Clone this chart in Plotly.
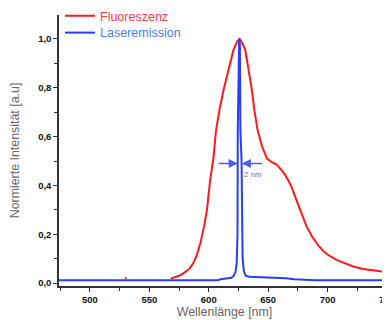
import plotly.graph_objects as go

# Fluorescence spectrum (normalized)
fluo_wl = [568, 572, 576, 580, 584, 587, 590, 593, 596, 598.5, 601, 604, 606, 609,
           612.4, 616.6, 620.8, 624, 626, 628, 630.7, 633.5, 636.3, 638.3, 641.1,
           644.8, 649, 653, 657, 660, 664, 667, 670, 673, 676, 678.5, 682, 687,
           692, 697, 702, 708, 715, 722, 730, 739, 748, 756]
fluo_val = [0.018, 0.024, 0.032, 0.045, 0.06, 0.082, 0.115, 0.165, 0.23, 0.30,
            0.415, 0.515, 0.62, 0.71, 0.79, 0.873, 0.955, 0.99, 1.0, 0.985, 0.955,
            0.873, 0.79, 0.71, 0.627, 0.56, 0.51, 0.495, 0.485, 0.47, 0.445, 0.42,
            0.39, 0.35, 0.31, 0.275, 0.235, 0.19, 0.155, 0.128, 0.11, 0.094, 0.08,
            0.067, 0.058, 0.052, 0.045, 0.04]
# isolated fluorescence spike
spike_wl = [529.5, 531]
spike_val = [0.02, 0.02]

# Laser emission (normalized)
laser_wl = [474, 608, 610, 615, 619, 621, 622.5, 623.5, 624.2, 624.4, 625.6, 626.2,
            626.6, 627.6, 627.9, 628.5, 629.5, 631, 634, 640, 648, 655, 665, 672,
            680, 690, 755]
laser_val = [0.012, 0.012, 0.016, 0.018, 0.022, 0.03, 0.045, 0.08, 0.2, 0.62, 1.0,
             0.98, 0.63, 0.5, 0.2, 0.1, 0.05, 0.03, 0.026, 0.025, 0.024, 0.022,
             0.02, 0.016, 0.013, 0.012, 0.012]

# FWHM marker
fwhm_y = 0.49
fwhm_left = [607, 624.3]
fwhm_right = [646, 627.8]
fwhm_label = "2 nm"
fwhm_label_pos = (637.5, 0.443)

red = "#ff1a1a"
blue = "#2a3cff"

fig = go.Figure()
fig.add_trace(go.Scatter(x=fluo_wl, y=fluo_val, mode="lines",
                         line=dict(color=red, width=2), legend="legend",
                         name="<span style='color:#ff3b3b'>Fluoreszenz</span>"))
fig.add_trace(go.Scatter(x=laser_wl, y=laser_val, mode="lines",
                         line=dict(color=blue, width=2), legend="legend2",
                         name="<span style='color:#3f7fff'>Laseremission</span>"))
fig.add_trace(go.Scatter(x=spike_wl, y=spike_val, mode="lines",
                         line=dict(color=red, width=2), showlegend=False))

for xs in (fwhm_left, fwhm_right):
    fig.add_annotation(x=xs[1], y=fwhm_y, ax=xs[0], ay=fwhm_y,
                       xref="x", yref="y", axref="x", ayref="y",
                       text="", showarrow=True, arrowhead=2, arrowsize=1.2,
                       arrowwidth=1.5, arrowcolor="#4a5cff")
fig.add_annotation(x=fwhm_label_pos[0], y=fwhm_label_pos[1], xref="x", yref="y",
                   text=fwhm_label, showarrow=False,
                   font=dict(size=8, color="#777777", family="Liberation Sans"))

axis_common = dict(showline=True, linecolor="#333333", linewidth=1.5,
                   ticks="outside", ticklen=4, tickwidth=1.2, tickcolor="#333333",
                   showgrid=False, zeroline=False, automargin=False,
                   tickfont=dict(size=9.5, color="#111111", family="Liberation Sans",
                                 weight="bold"),
                   title_font=dict(size=12.4, color="#666666", family="Liberation Sans"))

fig.update_xaxes(range=[474, 752.5], tickvals=[500, 550, 600, 650, 700, 750],
                 minor=dict(ticks="outside", ticklen=3, tickwidth=1, tickcolor="#333333",
                            dtick=25, tick0=475),
                 title_text="Wellenlänge [nm]", title_standoff=1, **axis_common)
fig.update_yaxes(range=[-0.012, 1.098], tickvals=[0, 0.2, 0.4, 0.6, 0.8, 1.0],
                 tickformat=".1f",
                 minor=dict(ticks="outside", ticklen=3, tickwidth=1, tickcolor="#333333",
                            dtick=0.1, tick0=0),
                 title_text="Normierte Intensität [a.u]", title_standoff=16, **axis_common)

legend_common = dict(x=0.003, xanchor="left", yanchor="top",
                     bgcolor="rgba(0,0,0,0)", itemwidth=30,
                     font=dict(size=12.5, family="Liberation Sans"))

fig.update_layout(width=390, height=320, separators=", ",
                  margin=dict(l=51, r=8, t=7, b=42, autoexpand=False),
                  plot_bgcolor="white", paper_bgcolor="white",
                  legend=dict(y=1.051, **legend_common),
                  legend2=dict(y=0.989, **legend_common),
                  )

fig.write_html("out.html")
